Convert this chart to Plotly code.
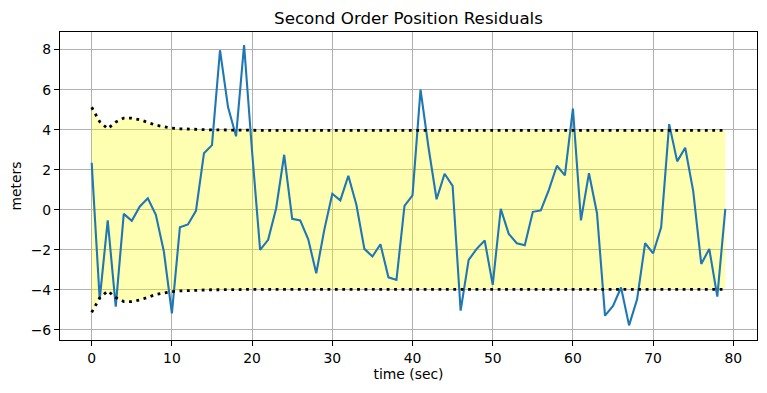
import plotly.graph_objects as go

t = list(range(80))
residuals = [2.35, -4.47, -0.53, -4.83, -0.2, -0.55, 0.17, 0.58, -0.25, -2.08,
             -5.17, -0.87, -0.73, -0.05, 2.83, 3.23, 7.97, 5.13, 3.67, 8.23,
             2.9, -2.0, -1.5, 0.08, 2.75, -0.45, -0.53, -1.47, -3.17, -1.0,
             0.8, 0.47, 1.7, 0.25, -1.95, -2.33, -1.72, -3.37, -3.5, 0.2,
             0.72, 6.0, 3.1, 0.53, 1.8, 1.2, -5.03, -2.5, -1.95, -1.53,
             -3.75, 0.05, -1.2, -1.67, -1.77, -0.1, -0.03, 1.0, 2.2, 1.72,
             5.05, -0.53, 1.83, -0.17, -5.28, -4.8, -3.88, -5.77, -4.47, -1.67,
             -2.17, -0.87, 4.28, 2.42, 3.1, 0.92, -2.7, -1.95, -4.33, 0.05]
std = [5.12, 4.4, 4.05, 4.38, 4.58, 4.58, 4.5, 4.37, 4.23, 4.15,
       4.08, 4.05, 4.03, 4.02, 4.0, 3.99, 3.99, 3.98, 3.98, 3.98] + [3.97] * 60
neg_std = [-s for s in std]

xticks = [0, 10, 20, 30, 40, 50, 60, 70, 80]
yticks = [-6, -4, -2, 0, 2, 4, 6, 8]

fig = go.Figure()
# fill between -std and +std
fig.add_trace(go.Scatter(x=t, y=neg_std, mode="lines", line=dict(width=0),
                         showlegend=False, hoverinfo="skip"))
fig.add_trace(go.Scatter(x=t, y=std, mode="lines", line=dict(width=0),
                         fill="tonexty", fillcolor="rgba(255,255,0,0.3)",
                         showlegend=False, hoverinfo="skip"))
fig.add_trace(go.Scatter(x=t, y=residuals, mode="lines",
                         line=dict(color="#1f77b4", width=2.1), showlegend=False))
fig.add_trace(go.Scatter(x=t, y=std, mode="lines",
                         line=dict(color="black", width=2.8, dash="2.8px,4.6px"),
                         showlegend=False))
fig.add_trace(go.Scatter(x=t, y=neg_std, mode="lines",
                         line=dict(color="black", width=2.8, dash="2.8px,4.6px"),
                         showlegend=False))

axis_common = dict(showgrid=True, gridcolor="#b0b0b0", gridwidth=1,
                   showline=True, linecolor="black", linewidth=1.1, mirror=True,
                   ticks="outside", ticklen=5, tickcolor="black", zeroline=False,
                   automargin=False,
                   tickfont=dict(family="DejaVu Sans", size=13.9, color="black"))

fig.update_layout(
    width=767, height=393,
    margin=dict(l=60, r=10, t=32, b=53, autoexpand=False),
    paper_bgcolor="white", plot_bgcolor="white",
    font=dict(family="DejaVu Sans", color="black"),
    title=dict(text="Second Order Position Residuals", x=(60 + 757) / 2 / 767,
               xanchor="center", y=1 - 18 / 393, yanchor="middle",
               yref="container", automargin=False,
               font=dict(family="DejaVu Sans", size=16.7, color="black")),
    xaxis=dict(range=[-3.95, 82.95], tickvals=xticks,
               title=dict(text="time (sec)", standoff=4,
                          font=dict(family="DejaVu Sans", size=13.9)),
               **axis_common),
    yaxis=dict(range=[-6.5, 8.88], tickvals=yticks,
               title=dict(text="meters", standoff=5,
                          font=dict(family="DejaVu Sans", size=13.9)),
               **axis_common),
)

fig.write_html("out.html", config={"displayModeBar": False},
               post_script="document.body.style.margin='0';document.body.style.overflow='hidden';")
